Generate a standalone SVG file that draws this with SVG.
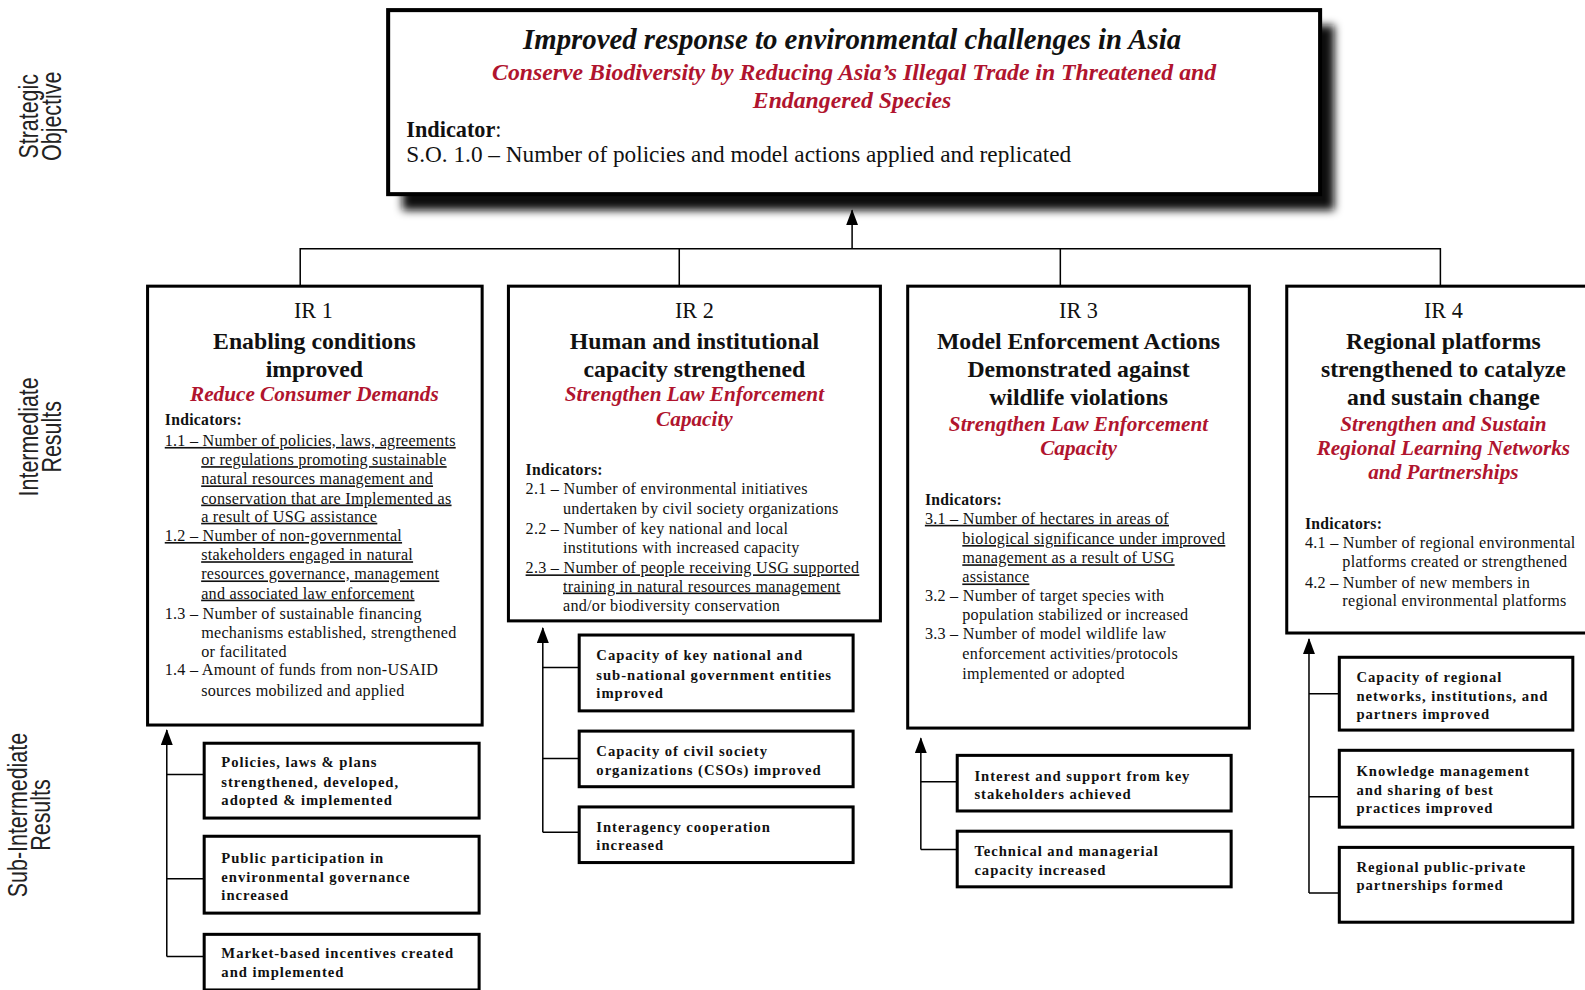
<svg xmlns="http://www.w3.org/2000/svg" width="1585" height="990" viewBox="0 0 1585 990">
<defs>
<style>
text{font-family:"Liberation Serif","Times New Roman",serif;fill:#111}
.box{fill:#fff;stroke:#000;stroke-width:3}
.conn{stroke:#000;stroke-width:1.5;fill:none}
.c{text-anchor:middle}
.irn{font-size:22px}
.h{font-size:23.5px;font-weight:bold}
.red{fill:#b0142e;font-style:italic;font-weight:bold;font-size:21px}
.ind{font-size:16px;letter-spacing:0.25px}
.indh{font-size:15.5px;font-weight:bold;letter-spacing:0.3px}
.u{text-decoration:underline}
.sub{font-size:14.5px;font-weight:bold;letter-spacing:0.95px}
.side{font-family:"Liberation Sans",Arial,sans-serif;font-size:26.5px;fill:#222;text-anchor:middle}
</style>
<marker id="arr" markerUnits="userSpaceOnUse" markerWidth="16" markerHeight="12" viewBox="0 0 16 12" refX="15" refY="6" orient="auto">
<path d="M0,0 L16,6 L0,12 Z" fill="#000"/>
</marker>
<filter id="blur" x="-10%" y="-20%" width="120%" height="140%"><feGaussianBlur stdDeviation="4"/></filter>
</defs>
<rect width="1585" height="990" fill="#fff"/>
<g transform="scale(1.0108,1.0112)">
<g id="side-labels">
<text class="side" transform="translate(38,115) rotate(-90) scale(0.8,1)">Strategic</text>
<text class="side" transform="translate(60,115) rotate(-90) scale(0.8,1)">Objective</text>
<text class="side" transform="translate(38,432) rotate(-90) scale(0.8,1)">Intermediate</text>
<text class="side" transform="translate(60,432) rotate(-90) scale(0.8,1)">Results</text>
<text class="side" transform="translate(27,806) rotate(-90) scale(0.8,1)">Sub-Intermediate</text>
<text class="side" transform="translate(49,806) rotate(-90) scale(0.8,1)">Results</text>
</g>
<g id="connectors">
<path class="conn" d="M843,246 V208" marker-end="url(#arr)"/>
<path class="conn" d="M297,283 V246 H1425 V283 M672,246 V283 M1049,246 V283"/>
<path class="conn" d="M165,946 V722" marker-end="url(#arr)"/>
<path class="conn" d="M165,766 H202 M165,869 H202 M165,946 H202"/>
<path class="conn" d="M537,823 V621" marker-end="url(#arr)"/>
<path class="conn" d="M537,660 H573 M537,750 H573 M537,823 H573"/>
<path class="conn" d="M911,840 V730" marker-end="url(#arr)"/>
<path class="conn" d="M911,773 H947 M911,840 H947"/>
<path class="conn" d="M1295,883 V632" marker-end="url(#arr)"/>
<path class="conn" d="M1295,686 H1325 M1295,788 H1325 M1295,883 H1325"/>
</g>
<g id="so">
<rect x="398" y="25" width="922" height="183" fill="#111" filter="url(#blur)"/>
<rect x="384" y="10" width="922" height="182" fill="#fff" stroke="#000" stroke-width="4"/>
<text class="c" x="843" y="48" style="font-size:28.5px;font-weight:bold;font-style:italic">Improved response to environmental challenges in Asia</text>
<text class="c red" x="845" y="79" style="font-size:23.5px">Conserve Biodiversity by Reducing Asia’s Illegal Trade in Threatened and</text>
<text class="c red" x="843" y="107" style="font-size:23.5px">Endangered Species</text>
<text x="402" y="135" style="font-size:22px"><tspan font-weight="bold">Indicator</tspan>:</text>
<text x="402" y="160" style="font-size:23px">S.O. 1.0 – Number of policies and model actions applied and replicated</text>
</g>
<g id="ir1">
<rect class="box" x="146" y="283" width="331" height="434"/>
<text class="c irn" x="310" y="314">IR 1</text>
<text class="c h" x="311" y="345">Enabling conditions</text>
<text class="c h" x="311" y="373">improved</text>
<text class="c red" x="311" y="397">Reduce Consumer Demands</text>
<text class="indh" x="163" y="420">Indicators:</text>
<text class="ind u" x="163" y="441">1.1 – Number of policies, laws, agreements</text>
<text class="ind u" x="199" y="460">or regulations promoting sustainable</text>
<text class="ind u" x="199" y="479">natural resources management and</text>
<text class="ind u" x="199" y="498">conservation that are Implemented as</text>
<text class="ind u" x="199" y="516">a result of USG assistance</text>
<text class="ind u" x="163" y="535">1.2 – Number of non-governmental</text>
<text class="ind u" x="199" y="554">stakeholders engaged in natural</text>
<text class="ind u" x="199" y="573">resources governance, management</text>
<text class="ind u" x="199" y="592">and associated law enforcement</text>
<text class="ind" x="163" y="612">1.3 – Number of sustainable financing</text>
<text class="ind" x="199" y="631">mechanisms established, strengthened</text>
<text class="ind" x="199" y="650">or facilitated</text>
<text class="ind" x="163" y="668">1.4 – Amount of funds from non-USAID</text>
<text class="ind" x="199" y="688">sources mobilized and applied</text>
</g>
<g id="ir2">
<rect class="box" x="503" y="283" width="368" height="331"/>
<text class="c irn" x="687" y="314">IR 2</text>
<text class="c h" x="687" y="345">Human and institutional</text>
<text class="c h" x="687" y="373">capacity strengthened</text>
<text class="c red" x="687" y="397">Strengthen Law Enforcement</text>
<text class="c red" x="687" y="421">Capacity</text>
<text class="indh" x="520" y="470">Indicators:</text>
<text class="ind" x="520" y="489">2.1 – Number of environmental initiatives</text>
<text class="ind" x="557" y="508">undertaken by civil society organizations</text>
<text class="ind" x="520" y="528">2.2 – Number of key national and local</text>
<text class="ind" x="557" y="547">institutions with increased capacity</text>
<text class="ind u" x="520" y="567">2.3 – Number of people receiving USG supported</text>
<text class="ind u" x="557" y="585">training in natural resources management</text>
<text class="ind" x="557" y="604">and/or biodiversity conservation</text>
</g>
<g id="ir3">
<rect class="box" x="898" y="283" width="338" height="437"/>
<text class="c irn" x="1067" y="314">IR 3</text>
<text class="c h" x="1067" y="345">Model Enforcement Actions</text>
<text class="c h" x="1067" y="373">Demonstrated against</text>
<text class="c h" x="1067" y="401">wildlife violations</text>
<text class="c red" x="1067" y="426">Strengthen Law Enforcement</text>
<text class="c red" x="1067" y="450">Capacity</text>
<text class="indh" x="915" y="499">Indicators:</text>
<text class="ind u" x="915" y="518">3.1 – Number of hectares in areas of</text>
<text class="ind u" x="952" y="538">biological significance under improved</text>
<text class="ind u" x="952" y="557">management as a result of USG</text>
<text class="ind u" x="952" y="576">assistance</text>
<text class="ind" x="915" y="594">3.2 – Number of target species with</text>
<text class="ind" x="952" y="613">population stabilized or increased</text>
<text class="ind" x="915" y="632">3.3 – Number of model wildlife law</text>
<text class="ind" x="952" y="652">enforcement activities/protocols</text>
<text class="ind" x="952" y="671">implemented or adopted</text>
</g>
<g id="ir4">
<rect class="box" x="1273" y="283" width="340" height="343"/>
<text class="c irn" x="1428" y="314">IR 4</text>
<text class="c h" x="1428" y="345">Regional platforms</text>
<text class="c h" x="1428" y="373">strengthened to catalyze</text>
<text class="c h" x="1428" y="401">and sustain change</text>
<text class="c red" x="1428" y="426">Strengthen and Sustain</text>
<text class="c red" x="1428" y="450">Regional Learning Networks</text>
<text class="c red" x="1428" y="474">and Partnerships</text>
<text class="indh" x="1291" y="523">Indicators:</text>
<text class="ind" x="1291" y="542">4.1 – Number of regional environmental</text>
<text class="ind" x="1328" y="561">platforms created or strengthened</text>
<text class="ind" x="1291" y="581">4.2 – Number of new members in</text>
<text class="ind" x="1328" y="599">regional environmental platforms</text>
</g>
<g id="sub1-1"><rect class="box" x="202" y="735" width="272" height="74"/>
<text class="sub" x="219" y="759">Policies, laws &amp; plans</text><text class="sub" x="219" y="778">strengthened, developed,</text><text class="sub" x="219" y="796">adopted &amp; implemented</text></g>
<g id="sub1-2"><rect class="box" x="202" y="827" width="272" height="76"/>
<text class="sub" x="219" y="853">Public participation in</text><text class="sub" x="219" y="872">environmental governance</text><text class="sub" x="219" y="890">increased</text></g>
<g id="sub1-3"><rect class="box" x="202" y="924" width="272" height="55"/>
<text class="sub" x="219" y="947">Market-based incentives created</text><text class="sub" x="219" y="966">and implemented</text></g>
<g id="sub2-1"><rect class="box" x="573" y="628" width="271" height="75"/>
<text class="sub" x="590" y="653">Capacity of key national and</text><text class="sub" x="590" y="672">sub-national government entities</text><text class="sub" x="590" y="690">improved</text></g>
<g id="sub2-2"><rect class="box" x="573" y="723" width="271" height="55"/>
<text class="sub" x="590" y="748">Capacity of civil society</text><text class="sub" x="590" y="766">organizations (CSOs) improved</text></g>
<g id="sub2-3"><rect class="box" x="573" y="798" width="271" height="55"/>
<text class="sub" x="590" y="823">Interagency cooperation</text><text class="sub" x="590" y="841">increased</text></g>
<g id="sub3-1"><rect class="box" x="947" y="747" width="271" height="55"/>
<text class="sub" x="964" y="772">Interest and support from key</text><text class="sub" x="964" y="790">stakeholders achieved</text></g>
<g id="sub3-2"><rect class="box" x="947" y="822" width="271" height="55"/>
<text class="sub" x="964" y="847">Technical and managerial</text><text class="sub" x="964" y="865">capacity increased</text></g>
<g id="sub4-1"><rect class="box" x="1325" y="650" width="231" height="72"/>
<text class="sub" x="1342" y="674">Capacity of regional</text><text class="sub" x="1342" y="693">networks, institutions, and</text><text class="sub" x="1342" y="711">partners improved</text></g>
<g id="sub4-2"><rect class="box" x="1325" y="742" width="231" height="76"/>
<text class="sub" x="1342" y="767">Knowledge management</text><text class="sub" x="1342" y="786">and sharing of best</text><text class="sub" x="1342" y="804">practices improved</text></g>
<g id="sub4-3"><rect class="box" x="1325" y="838" width="231" height="74"/>
<text class="sub" x="1342" y="862">Regional public-private</text><text class="sub" x="1342" y="880">partnerships formed</text></g>
</g>
</svg>
